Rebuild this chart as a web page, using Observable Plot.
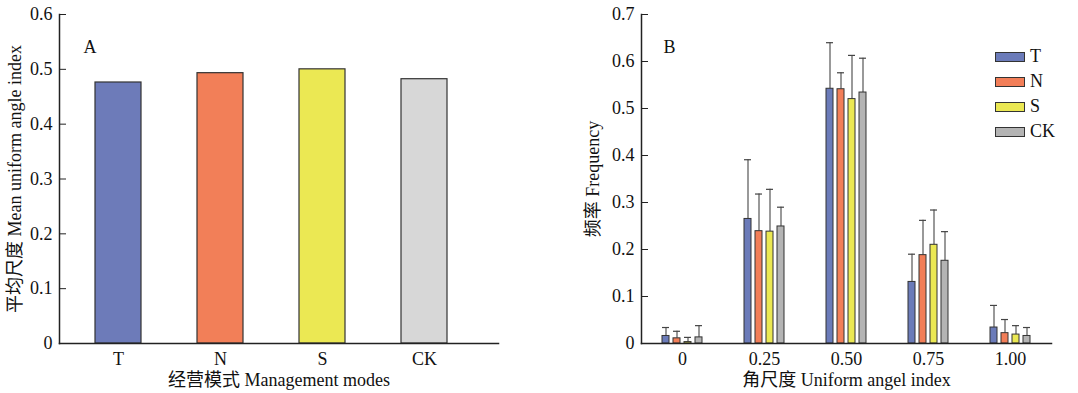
<!DOCTYPE html>
<html><head><meta charset="utf-8">
<script src="https://cdn.jsdelivr.net/npm/d3@7"></script>
<script src="https://cdn.jsdelivr.net/npm/@observablehq/plot@0.6"></script>
<style>
body{margin:0;background:#fff;}
#wrap{position:relative;width:1078px;height:393px;font-family:"Liberation Serif","Noto Sans CJK SC",serif;color:#111;}
#left{position:absolute;left:0;top:0}
#right{position:absolute;left:560px;top:0}
#legend{position:absolute;left:995px;top:44px;font-size:18px;}
.row{display:flex;align-items:center;height:25px;}
.sw{width:28px;height:8px;border:1.3px solid #333;margin-right:5px;}
</style></head>
<body><div id="wrap"><div id="left"></div><div id="right"></div><div id="legend"></div></div>
<script>
// ---- data ----
const modes = ["T", "N", "S", "CK"];
const meanIndex = [0.476, 0.493, 0.500, 0.482];
const yTicksA = [0, 0.1, 0.2, 0.3, 0.4, 0.5, 0.6];
const yLabelsA = ["0", "0.1", "0.2", "0.3", "0.4", "0.5", "0.6"];

const angleClasses = ["0", "0.25", "0.50", "0.75", "1.00"];
const freqT  = [0.016, 0.265, 0.542, 0.131, 0.034];
const freqN  = [0.011, 0.239, 0.541, 0.188, 0.022];
const freqS  = [0.003, 0.238, 0.520, 0.210, 0.019];
const freqCK = [0.013, 0.249, 0.534, 0.176, 0.016];
const sdT  = [0.018, 0.126, 0.098, 0.059, 0.047];
const sdN  = [0.015, 0.079, 0.035, 0.074, 0.029];
const sdS  = [0.010, 0.090, 0.093, 0.074, 0.019];
const sdCK = [0.025, 0.041, 0.073, 0.062, 0.018];
const yTicksB = [0, 0.1, 0.2, 0.3, 0.4, 0.5, 0.6, 0.7];
const yLabelsB = ["0", "0.1", "0.2", "0.3", "0.4", "0.5", "0.6", "0.7"];

const colorsA = ["#6d7bb9", "#f27f58", "#ebe853", "#d7d7d7"];
const colorsB = ["#6b7bb9", "#f27e58", "#ebe853", "#b4b4b4"];

// ---- build tables ----
const leftData = modes.map((m, i) => ({mode: m, value: meanIndex[i]}));
const freqs = {T: freqT, N: freqN, S: freqS, CK: freqCK};
const sds = {T: sdT, N: sdN, S: sdS, CK: sdCK};
const rightData = [];
angleClasses.forEach((c, ci) => modes.forEach(m => rightData.push({cls: c, mode: m, value: freqs[m][ci], sd: sds[m][ci]})));

const FONT = '"Liberation Serif","Noto Sans CJK SC",serif';
const style = {fontFamily: FONT, fontSize: "18px", color: "#111", background: "transparent", overflow: "visible"};
const AX = "#222";

const left = Plot.plot({
  width: 560, height: 393, marginLeft: 59, marginRight: 62, marginTop: 14, marginBottom: 50,
  style,
  x: {domain: modes, range: [66.7, 474.7], paddingInner: 0.55, paddingOuter: 0.275},
  y: {domain: [0, 0.6]},
  color: {domain: modes, range: colorsA},
  marks: [
    Plot.barY(leftData, {x: "mode", y: "value", fill: "mode", stroke: "#333", strokeWidth: 1.2}),
    Plot.frame({anchor: "left", stroke: AX, strokeWidth: 1.5}),
    Plot.frame({anchor: "bottom", stroke: AX, strokeWidth: 1.5}),
    Plot.axisY({ticks: yTicksA, tickSize: -7, fill: "none", stroke: AX, label: null}),
    Plot.axisY({ticks: yTicksA, tickSize: 0, tickPadding: 7, label: null,
      tickFormat: d => yLabelsA[yTicksA.indexOf(d)]}),
    Plot.axisX({tickSize: 0, tickPadding: 9, label: null}),
    Plot.text(["经营模式 Management modes"], {text: d => d, frameAnchor: "bottom", dy: 37, lineAnchor: "middle"}),
    Plot.text(["平均尺度 Mean uniform angle index"], {text: d => d, frameAnchor: "left", dx: -44, rotate: -90, textAnchor: "middle", lineAnchor: "middle"}),
    Plot.text(["A"], {text: d => d, frameAnchor: "top-left", dx: 24, dy: 33, textAnchor: "start", lineAnchor: "middle"})
  ]
});
document.getElementById("left").append(left);

const right = Plot.plot({
  width: 518, height: 393, marginLeft: 81, marginRight: 1, marginTop: 14, marginBottom: 50,
  style,
  fx: {domain: angleClasses, range: [80, 491], padding: 0},
  x: {domain: modes, paddingInner: 0.333, paddingOuter: 1.6, axis: null},
  y: {domain: [0, 0.7]},
  color: {domain: modes, range: colorsB},
  marks: [
    Plot.ruleX(rightData, {fx: "cls", x: "mode", y1: "value", y2: d => d.value + d.sd, stroke: "#555", strokeWidth: 1.2}),
    Plot.tickY(rightData, {fx: "cls", x: "mode", y: d => d.value + d.sd, stroke: "#444", strokeWidth: 1.2}),
    Plot.barY(rightData, {fx: "cls", x: "mode", y: "value", fill: "mode", stroke: "#333", strokeWidth: 1}),
    Plot.frame({anchor: "left", stroke: AX, strokeWidth: 1.5, facet: "super"}),
    Plot.frame({anchor: "bottom", stroke: AX, strokeWidth: 1.5, facet: "super"}),
    Plot.axisY({ticks: yTicksB, tickSize: -7, fill: "none", stroke: AX, label: null}),
    Plot.axisY({ticks: yTicksB, tickSize: 0, tickPadding: 7, label: null,
      tickFormat: d => yLabelsB[yTicksB.indexOf(d)]}),
    Plot.axisFx({anchor: "bottom", tickSize: 0, tickPadding: 9, label: null}),
    Plot.text(["角尺度 Uniform angel index"], {text: d => d, frameAnchor: "bottom", dy: 37, lineAnchor: "middle", facet: "super"}),
    Plot.text(["频率 Frequency"], {text: d => d, frameAnchor: "left", dx: -48, rotate: -90, textAnchor: "middle", lineAnchor: "middle", facet: "super"}),
    Plot.text(["B"], {text: d => d, frameAnchor: "top-left", dx: 22, dy: 33, textAnchor: "start", lineAnchor: "middle", facet: "super"})
  ]
});
document.getElementById("right").append(right);

// legend
const lg = document.getElementById("legend");
modes.forEach((m, i) => {
  const row = document.createElement("div");
  row.className = "row";
  const sw = document.createElement("div");
  sw.className = "sw";
  sw.style.background = colorsB[i];
  const t = document.createElement("span");
  t.textContent = m;
  row.append(sw, t);
  lg.append(row);
});
</script>
</body></html>
